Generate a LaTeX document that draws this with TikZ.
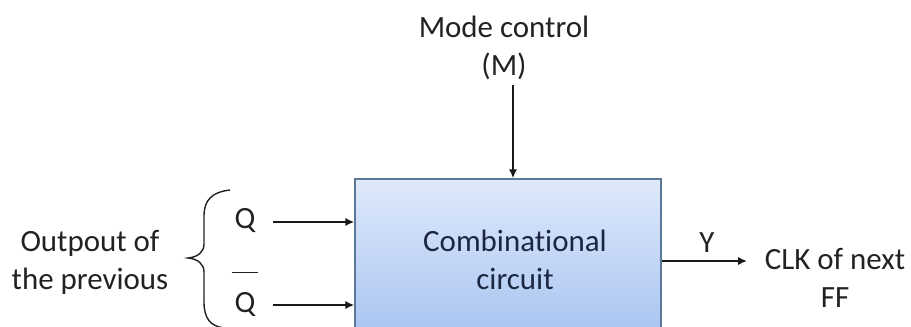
\documentclass[tikz,border=0pt]{standalone}
\usepackage{fontspec}
\setmainfont{Carlito}[Ligatures=NoCommon]
\usepackage{xcolor}
\usepackage{tikz}
\usetikzlibrary{arrows.meta,positioning}
\definecolor{labelgrey}{HTML}{222222}
\definecolor{boxtext}{HTML}{1B2742}
\definecolor{boxedge}{HTML}{5A7897}
\definecolor{boxtop}{HTML}{DFE9FB}
\definecolor{boxbottom}{HTML}{A7C3F1}

\begin{document}
\begin{tikzpicture}[x=0.02cm,y=-0.02cm,>={Latex[length=5pt,width=4.6pt]},
  font=\fontsize{17.6}{21.5}\selectfont,
  lbl/.style={text=labelgrey,align=center,inner sep=0pt},
  wire/.style={->,line width=0.9pt,draw=black!90}]
  \useasboundingbox (0,0) rectangle (911,326);
  \begin{scope}
    \clip (0,0) rectangle (911,326);
    \node[draw=boxedge,line width=0.9pt,top color=boxtop,bottom color=boxbottom,
      minimum width=6.12cm,minimum height=3.22cm] (box) at (508,259.5) {};
  \end{scope}
  \node[text=boxtext,align=center,inner sep=0pt] (comb) at (515,260) {Combinational\\circuit};
  \node[lbl] (mode) at (504,48) {Mode control\\(M)};
  \coordinate (mtop) at (513,85);
  \draw[wire] (mtop) -- (mtop |- box.north);
  \node[lbl] (prev) at (90,262) {Outpout of\\the previous};
  \draw[line width=0.8pt,labelgrey] (230,190) .. controls (212,192) and (204,200) .. (204,216)
    -- (204,244) .. controls (204,252) and (198,257) .. (188,258)
    .. controls (198,259) and (204,264) .. (204,272) -- (204,302)
    .. controls (204,318) and (210,326) .. (224,328);
  \node[lbl] (q) at (245,221) {Q};
  \node[lbl] (qbar) at (245,294) {$\overline{\kern1.5pt\rule{0pt}{21.5pt}\mbox{Q}\kern1.5pt}$};
  \coordinate (qin) at (273,222);
  \coordinate (qbarin) at (273,305);
  \draw[wire] (qin) -- (qin -| box.west);
  \draw[wire] (qbarin) -- (qbarin -| box.west);
  \coordinate (yend) at (747,261);
  \draw[wire] (yend -| box.east) -- (yend);
  \node[lbl] (ylab) at (707,243) {Y};
  \node[lbl] (clk) at (835,278) {CLK of next\\FF};
\end{tikzpicture}
\end{document}
